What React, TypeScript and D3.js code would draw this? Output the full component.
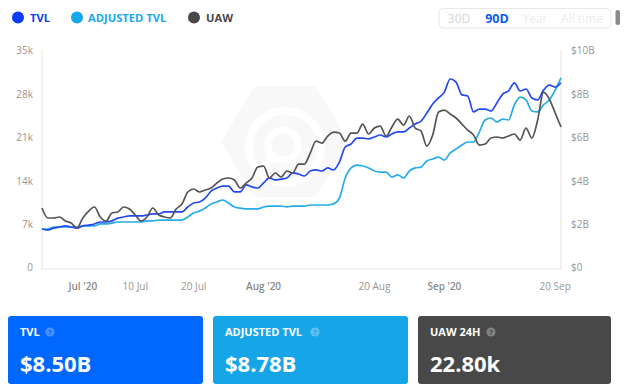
import React from "react";
import * as d3 from "d3";

const startDate = new Date(2020, 5, 24);
const uawK = [9.63,8.03,8.03,8.19,7.54,7.22,6.42,8.03,9.15,9.79,8.19,7.54,8.83,8.99,9.79,9.47,8.51,7.54,8.19,9.63,8.51,8.19,8.03,9.47,10.27,12.2,12.68,12.2,12.52,12.84,13.64,14.28,14.45,14.12,12.84,13.64,14.45,16.21,16.37,14.45,15.25,14.61,15.57,15.25,16.69,16.69,18.46,20.38,20.06,21.19,21.83,21.67,20.38,21.67,21.67,23.11,21.51,22.47,22.79,21.19,22.63,23.91,22.95,24.4,22.47,21.99,19.58,21.35,25.04,25.36,24.72,24.08,23.11,22.15,21.35,19.74,19.9,20.87,21.03,20.87,21.19,21.51,20.54,22.47,20.87,23.75,28.25,27.12,24.88,22.63];
const tvlB = [1.79,1.74,1.83,1.88,1.93,1.88,1.83,1.93,1.97,2.02,2.11,2.11,2.16,2.29,2.34,2.39,2.39,2.39,2.43,2.48,2.48,2.57,2.57,2.57,2.57,2.8,2.98,3.03,3.21,3.53,3.67,3.76,3.76,3.49,3.49,3.81,3.72,3.67,3.9,4.13,4.04,4.08,4.13,4.36,4.31,4.22,4.45,4.5,4.45,4.59,4.5,4.86,5.55,5.69,5.96,5.96,5.92,6.01,6.1,6.01,6.15,6.24,6.24,6.42,6.61,6.74,7.11,7.52,7.8,8.07,8.67,8.53,7.94,7.89,7.16,7.29,7.29,7.2,7.57,7.98,8.12,8.49,8.12,8.21,7.8,7.71,8.16,8.39,8.3,8.5];
const adjB = [1.79,1.79,1.88,1.88,1.88,1.88,1.88,1.93,1.93,1.93,2.02,2.02,2.06,2.11,2.11,2.11,2.11,2.11,2.16,2.16,2.2,2.2,2.2,2.2,2.2,2.34,2.52,2.61,2.75,2.94,3.03,3.12,2.98,2.8,2.75,2.71,2.71,2.71,2.8,2.84,2.84,2.84,2.8,2.84,2.84,2.84,2.89,2.89,2.89,2.89,2.94,3.21,4.13,4.59,4.72,4.68,4.59,4.45,4.4,4.4,4.17,4.27,4.13,4.45,4.59,4.63,4.91,5,5.09,4.95,5.28,5.46,5.64,5.78,5.78,6.24,6.79,6.88,6.7,6.83,6.79,7.48,7.84,7.71,7.2,7.16,7.48,7.71,8.16,8.72];

const leftTicks = [0, 7, 14, 21, 28, 35];
const leftLabels = ["0", "7k", "14k", "21k", "28k", "35k"];
const rightTicks = [0, 2, 4, 6, 8, 10];
const rightLabels = ["$0", "$2B", "$4B", "$6B", "$8B", "$10B"];
const xTickDates = [new Date(2020,6,1), new Date(2020,6,10), new Date(2020,6,20), new Date(2020,7,1), new Date(2020,7,20), new Date(2020,8,1), new Date(2020,8,20)];
const xTickLabels = ["Jul '20", "10 Jul", "20 Jul", "Aug '20", "20 Aug", "Sep '20", "20 Sep"];
const ranges = ["30D", "90D", "Year", "All time"];
const legendNames = ["TVL", "ADJUSTED TVL", "UAW"];
const cardTitles = ["TVL", "ADJUSTED TVL", "UAW 24H"];
const cardValues = ["$8.50B", "$8.78B", "22.80k"];

const W = 624, H = 392;
const L = 42, R = 561, T = 50, B = 268;
const FONT = "'Open Sans', sans-serif";
const C_TVL = "#2448f2", C_ADJ = "#27ace9", C_UAW = "#555555";
const C_LABEL = "#9a9593";

const x = d3.scaleTime().domain([startDate, new Date(2020, 8, 21)]).range([L, R]);
const yK = d3.scaleLinear().domain([0, 35]).range([B, T]);
const yB = d3.scaleLinear().domain([0, 10]).range([B, T]);
const dateAt = (i: number) => d3.timeDay.offset(startDate, i);

const pathK = d3.line<number>().x((_, i) => x(dateAt(i))).y(d => yK(d)).curve(d3.curveMonotoneX);
const pathB = d3.line<number>().x((_, i) => x(dateAt(i))).y(d => yB(d)).curve(d3.curveMonotoneX);

function Help({ cx, cy, fill, color }: { cx: number; cy: number; fill: string; color: string }) {
  return (
    <g>
      <circle cx={cx} cy={cy} r={4.6} fill={fill} />
      <text x={cx} y={cy + 2.6} textAnchor="middle" fontSize={7} fontWeight={700} fontFamily={FONT} fill={color}>?</text>
    </g>
  );
}

export default function App() {
  const legendPos = [
    { dot: 18, text: 30, color: "#0a3cff" },
    { dot: 77, text: 88, color: "#16a8ec" },
    { dot: 194, text: 206, color: "#484848" },
  ];
  const rangeX = [459, 497, 535, 582];
  const cards = [
    { x: 8, w: 195, fill: "#0068ff", help: "#4b90ff", color: "#0068ff" },
    { x: 213, w: 195, fill: "#16a6e8", help: "#5cc0ee", color: "#16a6e8" },
    { x: 418, w: 193, fill: "#484848", help: "#808080", color: "#484848" },
  ];
  const helpX = [50, 315, 491];
  return (
    <svg width={W} height={H} viewBox={`0 0 ${W} ${H}`} style={{ position: "fixed", left: 0, top: 0, background: "#fff" }}>
      {/* legend */}
      {legendNames.map((n, i) => (
        <g key={n}>
          <circle cx={legendPos[i].dot} cy={17.5} r={6} fill={legendPos[i].color} />
          <text x={legendPos[i].text} y={22} fontSize={11.2} fontWeight={700} fontFamily={FONT} fill={legendPos[i].color}>{n}</text>
        </g>
      ))}
      {/* range selector */}
      <rect x={439} y={8.5} width={172} height={19.5} rx={4} fill="#fff" stroke="#e8e8e8" strokeWidth={1} />
      {ranges.map((r, i) => (
        <text key={r} x={rangeX[i]} y={23} textAnchor="middle" fontSize={i === 1 ? 12.5 : 12} fontWeight={i === 1 ? 700 : 400} fontFamily={FONT}
          fill={i === 1 ? "#0a5cf5" : i === 0 ? "#d4d4d4" : "#ececec"}>{r}</text>
      ))}
      <rect x={615.5} y={10} width={4.5} height={15} rx={2} fill="#8a8a8a" />
      {/* watermark */}
      <g>
        <path d="M258 92 L312 92 L342 142 L312 191 L258 191 L228 142 Z" fill="#f8f8f8" stroke="#f8f8f8" strokeWidth={12} strokeLinejoin="round" />
        <circle cx={285} cy={147} r={36} fill="none" stroke="#fff" strokeWidth={8} />
        <circle cx={283} cy={145} r={15} fill="none" stroke="#fff" strokeWidth={7} />
        <path d="M273 156 L262 170" fill="none" stroke="#fff" strokeWidth={7} />
      </g>
      {/* axes */}
      <path d={`M${L} ${T}V${B + 1}H${R}V${T}`} fill="none" stroke="#eeeeee" strokeWidth={1.5} />
      {leftTicks.map((t, i) => (
        <text key={t} x={33} y={yK(t) + (t === 0 ? 3 : 4)} textAnchor="end" fontSize={10} fontFamily={FONT} fill={C_LABEL}>{leftLabels[i]}</text>
      ))}
      {rightTicks.map((t, i) => (
        <text key={t} x={571} y={yB(t) + (t === 0 ? 3 : 4)} fontSize={10} fontWeight={500} fontFamily={FONT} fill={C_LABEL}>{rightLabels[i]}</text>
      ))}
      {xTickDates.map((d, i) => (
        <text key={xTickLabels[i]} x={x(d)} y={290} textAnchor="middle" fontSize={10} fontWeight={xTickLabels[i].includes("'") ? 600 : 400} fontFamily={FONT} fill={xTickLabels[i].includes("'") ? "#8a8a8a" : C_LABEL}>{xTickLabels[i]}</text>
      ))}
      {/* lines */}
      <path d={pathB(adjB) ?? ""} fill="none" stroke={C_ADJ} strokeWidth={1.7} />
      <path d={pathB(tvlB) ?? ""} fill="none" stroke={C_TVL} strokeWidth={1.7} />
      <path d={pathK(uawK) ?? ""} fill="none" stroke={C_UAW} strokeWidth={1.7} />
      {/* cards */}
      {cards.map((c, i) => (
        <g key={c.x}>
          <rect x={c.x} y={316} width={c.w} height={68} rx={3} fill={c.fill} />
          <text x={c.x + 12} y={336} fontSize={11} fontWeight={700} fontFamily={FONT} fill="#fff">{cardTitles[i]}</text>
          <Help cx={helpX[i]} cy={332} fill={c.help} color={c.color} />
          <text x={c.x + 12} y={372} fontSize={22} fontWeight={700} fontFamily={FONT} fill="#fff">{cardValues[i]}</text>
        </g>
      ))}
    </svg>
  );
}
